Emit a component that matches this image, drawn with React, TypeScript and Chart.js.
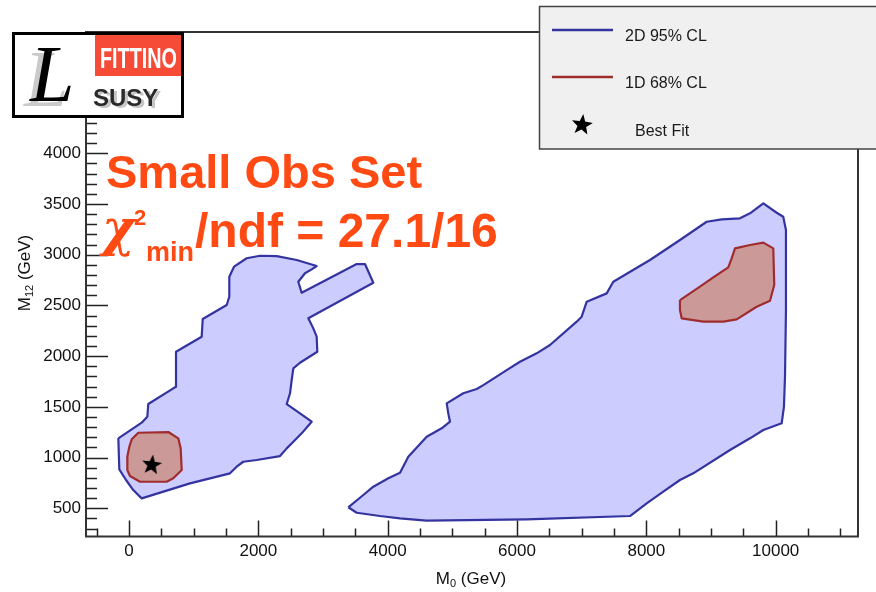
import React, { useEffect, useRef } from "react";
import { Chart, registerables } from "chart.js";

Chart.register(...registerables);

// ---- axis ranges & tick labels ----
const X_MIN = -665;
const X_MAX = 11273;
const Y_MIN = 222;
const Y_MAX = 5196;
const xTickValues = [0, 2000, 4000, 6000, 8000, 10000];
const yTickValues = [500, 1000, 1500, 2000, 2500, 3000, 3500, 4000, 4500, 5000];

// ---- contours (M0, M12) in GeV ----
const contour2DLeft: [number, number][] = [
  [-165, 1190], [196, 1344], [283, 1403], [298, 1528], [685, 1683], [727, 1699],
  [727, 2044], [1124, 2192], [1140, 2366], [1511, 2504], [1551, 2586], [1551, 2783],
  [1624, 2882], [1820, 2965], [2026, 2990], [2284, 2987], [2593, 2948], [2902, 2889],
  [2825, 2856], [2721, 2817], [2618, 2734], [2670, 2625], [3521, 2908], [3649, 2908],
  [3778, 2724], [2773, 2373], [2850, 2274], [2902, 2192], [2912, 2044], [2644, 1935],
  [2541, 1880], [2516, 1765], [2490, 1634], [2439, 1528], [2644, 1436], [2825, 1354],
  [2670, 1239], [2541, 1156], [2439, 1091], [2335, 1015], [1975, 976], [1767, 959],
  [1665, 910], [1562, 845], [943, 746], [196, 598], [66, 680], [-46, 779], [-150, 884],
];

const contour2DRight: [number, number][] = [
  [3391, 510], [3623, 631], [3778, 713], [4010, 796], [4191, 851], [4319, 1009],
  [4603, 1206], [4835, 1289], [4964, 1354], [4937, 1436], [4913, 1535], [5169, 1634],
  [5377, 1676], [5479, 1715], [5840, 1863], [6046, 1945], [6304, 2028], [6510, 2110],
  [6923, 2340], [7000, 2389], [7078, 2537], [7387, 2619], [7489, 2734], [8056, 2948],
  [8520, 3145], [8933, 3325], [9165, 3349], [9448, 3359], [9603, 3408], [9809, 3507],
  [10016, 3414], [10117, 3375], [10159, 3244], [10159, 2455], [10144, 1797], [10128, 1502],
  [10093, 1338], [9809, 1272], [9603, 1190], [9294, 1075], [8726, 845], [8520, 779],
  [8262, 664], [8005, 549], [7747, 424], [6150, 391], [4603, 378], [4191, 401],
  [3881, 424], [3521, 456],
];

const contour1DLeft: [number, number][] = [
  [5, 1107], [42, 1180], [144, 1245], [608, 1252], [762, 1190], [799, 1091],
  [815, 877], [685, 796], [583, 762], [170, 762], [15, 818], [-26, 877], [-26, 1009],
];

const contour1DRight: [number, number][] = [
  [8520, 2553], [8829, 2685], [9035, 2777], [9267, 2876], [9319, 2965], [9371, 3063],
  [9603, 3096], [9809, 3119], [9963, 3063], [9978, 2701], [9912, 2547], [9706, 2487],
  [9397, 2363], [9190, 2340], [8881, 2340], [8546, 2373], [8520, 2455],
];

const bestFit: [number, number][] = [[351, 927]];

const legendLabels = ["2D 95% CL", "1D 68% CL", "Best Fit"];

// ---- styles ----
const BLUE_LINE = "rgb(52,52,160)";
const BLUE_FILL = "rgb(204,204,255)";
const RED_LINE = "rgb(160,45,45)";
const RED_FILL = "rgb(204,153,153)";
const ORANGE = "rgb(255,74,20)";
const FONT = "'Liberation Sans', Arial, Helvetica, sans-serif";

function closed(points: [number, number][]) {
  const pts = points.map(([x, y]) => ({ x, y }));
  pts.push({ x: points[0][0], y: points[0][1] });
  return pts;
}

function drawStarPath(g: CanvasRenderingContext2D, cx: number, cy: number, R: number, rot: number) {
  const r = R * 0.42;
  g.beginPath();
  for (let i = 0; i < 10; i++) {
    const a = -Math.PI / 2 + rot + (i * Math.PI) / 5;
    const rr = i % 2 === 0 ? R : r;
    const px = cx + rr * Math.cos(a);
    const py = cy + rr * Math.sin(a);
    if (i === 0) g.moveTo(px, py);
    else g.lineTo(px, py);
  }
  g.closePath();
}

function makeStar(size: number) {
  const c = document.createElement("canvas");
  c.width = size;
  c.height = size;
  const g = c.getContext("2d")!;
  g.fillStyle = "#000";
  drawStarPath(g, size / 2, size / 2, size / 2 - 0.5, 0.12);
  g.fill();
  return c;
}

const polyFillPlugin = {
  id: "polyFill",
  beforeDatasetDraw(chart: any, args: any) {
    const ds = chart.data.datasets[args.index];
    const meta = args.meta;
    if (!ds.polyFill || !meta.dataset) return;
    const ctx = chart.ctx;
    ctx.save();
    ctx.beginPath();
    meta.dataset.path(ctx);
    ctx.closePath();
    ctx.fillStyle = ds.polyFill;
    ctx.fill();
    ctx.restore();
  },
};

const decorPlugin = {
  id: "decor",
  afterDraw(chart: any) {
    const ctx: CanvasRenderingContext2D = chart.ctx;
    const xs = chart.scales.x;
    const ys = chart.scales.y;
    const { left, right, top, bottom } = chart.chartArea;
    ctx.save();

    // inward ticks
    ctx.strokeStyle = "#222";
    ctx.lineWidth = 1.5;
    ctx.beginPath();
    for (let v = -500; v <= 11000; v += 500) {
      const px = Math.round(xs.getPixelForValue(v)) + 0.5;
      const len = v % 2000 === 0 ? 16 : 8;
      ctx.moveTo(px, bottom);
      ctx.lineTo(px, bottom - len);
    }
    for (let v = 300; v <= 5100; v += 100) {
      const py = Math.round(ys.getPixelForValue(v)) + 0.5;
      const len = v % 500 === 0 ? 22 : 11;
      ctx.moveTo(left, py);
      ctx.lineTo(left + len, py);
    }
    ctx.stroke();

    // frame
    ctx.lineWidth = 2;
    ctx.strokeStyle = "#333";
    ctx.strokeRect(left, top, right - left, bottom - top);

    // axis titles
    ctx.fillStyle = "#111";
    ctx.textBaseline = "alphabetic";
    ctx.font = `17px ${FONT}`;
    {
      const mW = ctx.measureText("M").width;
      ctx.font = `11px ${FONT}`;
      const sW = ctx.measureText("0").width;
      ctx.font = `17px ${FONT}`;
      const rW = ctx.measureText(" (GeV)").width;
      const total = mW + sW + rW;
      let x = 471 - total / 2;
      const base = 584;
      ctx.fillText("M", x, base);
      x += mW;
      ctx.font = `11px ${FONT}`;
      ctx.fillText("0", x, base + 3);
      x += sW;
      ctx.font = `17px ${FONT}`;
      ctx.fillText(" (GeV)", x, base);
    }
    {
      ctx.save();
      ctx.translate(30, 273);
      ctx.rotate(-Math.PI / 2);
      const mW = ctx.measureText("M").width;
      ctx.font = `11px ${FONT}`;
      const sW = ctx.measureText("12").width;
      ctx.font = `17px ${FONT}`;
      const rW = ctx.measureText(" (GeV)").width;
      const total = mW + sW + rW;
      let x = -total / 2;
      ctx.fillText("M", x, 0);
      x += mW;
      ctx.font = `11px ${FONT}`;
      ctx.fillText("12", x, 3);
      x += sW;
      ctx.font = `17px ${FONT}`;
      ctx.fillText(" (GeV)", x, 0);
      ctx.restore();
    }

    // big orange annotation
    ctx.fillStyle = ORANGE;
    ctx.font = `bold 47px ${FONT}`;
    ctx.fillText("Small Obs Set", 106, 188);
    ctx.save();
    ctx.font = `italic bold 50px 'DejaVu Serif', serif`;
    ctx.fillText("χ", 102, 245);
    ctx.restore();
    ctx.font = `bold 22px ${FONT}`;
    ctx.fillText("2", 134, 225);
    ctx.font = `bold 27px ${FONT}`;
    ctx.fillText("min", 146, 261);
    ctx.font = `bold 48px ${FONT}`;
    ctx.fillText("/ndf = 27.1/16", 195, 247);

    // legend box
    ctx.fillStyle = "#f0f0f0";
    ctx.fillRect(539.5, 6.5, 345, 142.5);
    ctx.strokeStyle = "#444";
    ctx.lineWidth = 1.5;
    ctx.strokeRect(539.5, 6.5, 345, 142.5);
    ctx.lineWidth = 2.5;
    ctx.strokeStyle = BLUE_LINE;
    ctx.beginPath();
    ctx.moveTo(552, 30);
    ctx.lineTo(613, 30);
    ctx.stroke();
    ctx.strokeStyle = RED_LINE;
    ctx.beginPath();
    ctx.moveTo(552, 77);
    ctx.lineTo(613, 77);
    ctx.stroke();
    ctx.fillStyle = "#000";
    drawStarPath(ctx, 582, 125, 11, 0.12);
    ctx.fill();
    ctx.fillStyle = "#1a1a1a";
    ctx.font = `16px ${FONT}`;
    ctx.fillText(legendLabels[0], 625, 41);
    ctx.fillText(legendLabels[1], 625, 88);
    ctx.fillText(legendLabels[2], 635, 136);

    // logo
    ctx.fillStyle = "#fff";
    ctx.fillRect(12, 32, 172, 86);
    ctx.fillStyle = "rgb(245,75,55)";
    ctx.fillRect(95, 35, 86, 41);
    ctx.save();
    ctx.fillStyle = "#fff";
    ctx.font = `bold 30px ${FONT}`;
    ctx.translate(100, 68);
    ctx.scale(0.66, 1);
    ctx.fillText("FITTINO", 0, 0);
    ctx.restore();
    ctx.save();
    ctx.font = `italic 80px 'Liberation Serif', serif`;
    ctx.fillStyle = "rgba(150,150,150,0.5)";
    ctx.fillText("L", 24, 106);
    ctx.fillStyle = "#000";
    ctx.fillText("L", 30, 101);
    ctx.restore();
    ctx.font = `bold 24px ${FONT}`;
    ctx.fillStyle = "rgba(160,160,160,0.6)";
    ctx.fillText("SUSY", 96, 108);
    ctx.fillStyle = "#2a2a2a";
    ctx.fillText("SUSY", 93, 106);
    ctx.strokeStyle = "#000";
    ctx.lineWidth = 3;
    ctx.strokeRect(13.5, 33.5, 169, 83);

    ctx.restore();
  },
};

export default function App() {
  const ref = useRef<HTMLCanvasElement>(null);

  useEffect(() => {
    document.body.style.margin = "0";
    const canvas = ref.current!;
    const star = makeStar(22);
    const lineDs = (pts: [number, number][], line: string, fill: string, order: number) => ({
      data: closed(pts),
      borderColor: line,
      borderWidth: 2.2,
      backgroundColor: fill,
      polyFill: fill,
      fill: false,
      pointRadius: 0,
      tension: 0,
      order,
      borderJoinStyle: "round",
    });
    const chart = new Chart(canvas, {
      type: "line",
      data: {
        datasets: [
          lineDs(contour2DLeft, BLUE_LINE, BLUE_FILL, 3) as any,
          lineDs(contour2DRight, BLUE_LINE, BLUE_FILL, 3) as any,
          lineDs(contour1DLeft, RED_LINE, RED_FILL, 2) as any,
          lineDs(contour1DRight, RED_LINE, RED_FILL, 2) as any,
          {
            data: bestFit.map(([x, y]) => ({ x, y })),
            showLine: false,
            pointStyle: star,
            pointRadius: 11,
            order: 1,
          } as any,
        ],
      },
      options: {
        responsive: false,
        animation: false,
        events: [],
        layout: { padding: { top: 32, right: 18, left: 0, bottom: 0 } },
        plugins: { legend: { display: false }, tooltip: { enabled: false }, title: { display: false } },
        scales: {
          x: {
            type: "linear",
            min: X_MIN,
            max: X_MAX,
            grid: { display: false, drawTicks: false },
            border: { display: false },
            afterBuildTicks: (s: any) => {
              s.ticks = xTickValues.map((v) => ({ value: v }));
            },
            afterFit: (s: any) => {
              s.height = 592 - 536.5;
            },
            ticks: {
              padding: 5,
              maxRotation: 0,
              autoSkip: false,
              color: "#111",
              font: { family: FONT, size: 17 },
              callback: (v: any) => String(v),
            },
          },
          y: {
            type: "linear",
            min: Y_MIN,
            max: Y_MAX,
            grid: { display: false, drawTicks: false },
            border: { display: false },
            afterBuildTicks: (s: any) => {
              s.ticks = yTickValues.map((v) => ({ value: v }));
            },
            afterFit: (s: any) => {
              s.width = 86;
            },
            ticks: {
              padding: 5,
              autoSkip: false,
              color: "#111",
              font: { family: FONT, size: 17 },
              callback: (v: any) => String(v),
            },
          },
        },
      } as any,
      plugins: [polyFillPlugin, decorPlugin],
    });
    return () => chart.destroy();
  }, []);

  return (
    <div style={{ position: "relative", width: 876, height: 592, background: "#fff" }}>
      <canvas ref={ref} width={876} height={592} style={{ display: "block" }} />
    </div>
  );
}
